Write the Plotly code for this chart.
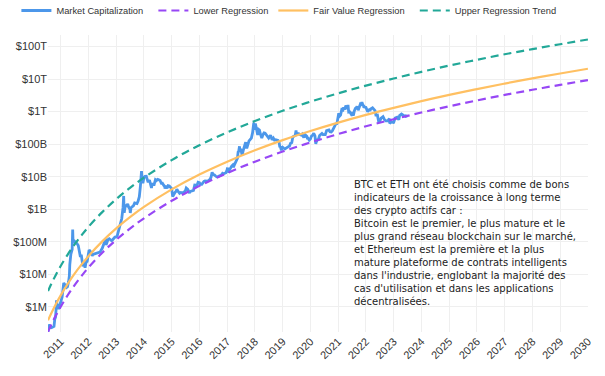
import plotly.graph_objects as go

# ---------------- data ----------------
mc_dates = [
 "2010-07-18","2010-07-25","2010-08-05","2010-08-20","2010-09-05","2010-09-20","2010-10-05","2010-10-15","2010-10-25",
 "2010-11-01","2010-11-07","2010-11-15","2010-11-25","2010-12-05","2010-12-15","2010-12-25",
 "2011-01-05","2011-01-20","2011-02-01","2011-02-10","2011-02-20","2011-03-01","2011-03-20","2011-04-01","2011-04-15","2011-04-25",
 "2011-05-01","2011-05-15","2011-06-01","2011-06-08","2011-06-12","2011-06-20","2011-07-01","2011-07-15","2011-08-01","2011-08-20",
 "2011-09-01","2011-09-15","2011-10-01","2011-10-20","2011-11-01","2011-11-18","2011-12-01","2011-12-15",
 "2012-01-01","2012-01-10","2012-02-01","2012-02-20","2012-03-01","2012-04-01","2012-05-01","2012-06-01","2012-07-01","2012-07-15",
 "2012-08-01","2012-08-16","2012-08-20","2012-09-01","2012-09-15","2012-10-01","2012-10-15","2012-11-01","2012-11-15","2012-12-01","2012-12-15",
 "2013-01-01","2013-01-15","2013-02-01","2013-02-15","2013-03-01","2013-03-15","2013-04-01","2013-04-09","2013-04-16","2013-05-01",
 "2013-05-15","2013-06-01","2013-06-15","2013-07-01","2013-07-05","2013-07-15","2013-08-01","2013-08-15","2013-09-01","2013-09-15",
 "2013-10-01","2013-10-15","2013-11-01","2013-11-15","2013-11-30","2013-12-07","2013-12-18",
 "2014-01-01","2014-01-15","2014-02-01","2014-02-15","2014-02-25","2014-03-01","2014-03-15","2014-04-01","2014-04-10","2014-04-20",
 "2014-05-01","2014-05-15","2014-06-01","2014-06-15","2014-07-01","2014-07-15","2014-08-01","2014-08-18","2014-09-01","2014-09-22",
 "2014-10-01","2014-10-05","2014-10-15","2014-11-01","2014-11-15","2014-12-01","2014-12-15",
 "2015-01-01","2015-01-14","2015-02-01","2015-02-15","2015-03-01","2015-03-10","2015-04-01","2015-04-15","2015-05-01","2015-06-01",
 "2015-07-01","2015-07-12","2015-08-01","2015-08-24","2015-09-01","2015-10-01","2015-10-15","2015-11-04","2015-11-11","2015-12-01","2015-12-15",
 "2016-01-01","2016-01-15","2016-02-01","2016-02-15","2016-03-01","2016-03-15","2016-04-01","2016-04-15","2016-05-01","2016-05-15",
 "2016-06-01","2016-06-16","2016-07-01","2016-07-15","2016-08-01","2016-08-15","2016-09-01","2016-09-15","2016-10-01","2016-10-15",
 "2016-11-01","2016-11-15","2016-12-01","2016-12-15",
 "2017-01-01","2017-01-05","2017-01-11","2017-02-01","2017-02-15","2017-03-01","2017-03-15","2017-03-25","2017-04-01","2017-04-15",
 "2017-05-01","2017-05-15","2017-05-25","2017-06-01","2017-06-12","2017-06-15","2017-07-01","2017-07-16","2017-08-01","2017-08-15",
 "2017-09-01","2017-09-15","2017-10-01","2017-10-15","2017-11-01","2017-11-15","2017-12-01","2017-12-17","2017-12-22",
 "2018-01-01","2018-01-07","2018-01-13","2018-02-01","2018-02-06","2018-02-20","2018-03-01","2018-03-15","2018-04-01","2018-04-15",
 "2018-05-01","2018-05-15","2018-06-01","2018-06-15","2018-07-01","2018-07-25","2018-08-01","2018-08-15","2018-09-01","2018-09-15",
 "2018-10-01","2018-10-15","2018-11-01","2018-11-15","2018-11-25","2018-12-01","2018-12-15",
 "2019-01-01","2019-01-15","2019-02-01","2019-02-15","2019-03-01","2019-03-15","2019-04-01","2019-04-15","2019-05-01","2019-05-15",
 "2019-06-01","2019-06-15","2019-06-26","2019-07-01","2019-07-15","2019-08-01","2019-08-15","2019-09-01","2019-09-15","2019-09-25",
 "2019-10-01","2019-10-15","2019-10-26","2019-11-01","2019-11-15","2019-11-25","2019-12-01","2019-12-17",
 "2020-01-01","2020-01-15","2020-02-01","2020-02-14","2020-03-01","2020-03-12","2020-03-15","2020-04-01","2020-04-15","2020-05-01",
 "2020-05-15","2020-06-01","2020-06-15","2020-07-01","2020-07-15","2020-08-01","2020-08-15","2020-09-01","2020-09-15","2020-10-01",
 "2020-10-15","2020-11-01","2020-11-15","2020-12-01","2020-12-15",
 "2021-01-01","2021-01-08","2021-01-22","2021-02-01","2021-02-21","2021-02-28","2021-03-13","2021-03-25","2021-04-14","2021-04-25",
 "2021-05-10","2021-05-19","2021-06-01","2021-06-22","2021-07-01","2021-07-20","2021-08-01","2021-08-15","2021-09-01","2021-09-06",
 "2021-09-21","2021-10-01","2021-10-20","2021-11-01","2021-11-09","2021-11-26","2021-12-01","2021-12-04","2021-12-20",
 "2022-01-01","2022-01-24","2022-02-10","2022-02-24","2022-03-01","2022-03-29","2022-04-15","2022-05-01","2022-05-12","2022-06-01",
 "2022-06-18","2022-07-01","2022-07-20","2022-08-14","2022-09-01","2022-09-20","2022-10-15","2022-11-05","2022-11-10","2022-12-01","2022-12-30",
 "2023-01-01","2023-01-20","2023-02-01","2023-02-15","2023-03-10","2023-03-20","2023-04-14","2023-05-01","2023-05-15","2023-06-01",
 "2023-06-15","2023-06-22",
]
mc_values = [
 1.7e5,2.9e5,2.2e5,2.5e5,2.3e5,2.4e5,2.5e5,4.2e5,4.8e5,
 8.0e5,1.6e6,1.1e6,1.2e6,8.5e5,1.1e6,1.15e6,
 1.5e6,2.0e6,3.6e6,5.5e6,4.9e6,4.8e6,4.0e6,4.2e6,6.0e6,9.0e6,
 2.0e7,4.2e7,5.8e7,2.4e8,1.2e8,1.1e8,1.06e8,9.4e7,9.0e7,7.7e7,
 5.8e7,3.7e7,3.7e7,1.75e7,2.4e7,1.6e7,2.35e7,2.5e7,
 4.2e7,5.6e7,4.9e7,3.7e7,4.1e7,4.3e7,4.5e7,4.8e7,6.3e7,7.6e7,
 9.0e7,1.25e8,8.0e7,1.0e8,1.17e8,1.24e8,1.19e8,1.08e8,1.16e8,1.32e8,1.40e8,
 1.42e8,1.56e8,2.22e8,2.95e8,3.75e8,5.2e8,1.16e9,2.57e9,7.8e8,1.3e9,
 1.28e9,1.45e9,1.14e9,9.9e8,7.7e8,1.12e9,1.2e9,1.27e9,1.57e9,1.5e9,
 1.49e9,1.76e9,2.44e9,5.0e9,1.5e10,8.5e9,6.3e9,
 9.4e9,1.02e10,1.03e10,7.7e9,6.7e9,7.1e9,7.9e9,6.0e9,4.5e9,6.3e9,
 5.7e9,5.7e9,8.1e9,7.6e9,8.3e9,8.1e9,7.7e9,6.3e9,6.3e9,5.3e9,
 5.1e9,4.3e9,5.3e9,4.4e9,5.3e9,5.2e9,4.7e9,
 4.3e9,2.45e9,3.1e9,3.3e9,3.6e9,4.1e9,3.4e9,3.1e9,3.3e9,3.2e9,
 3.7e9,4.5e9,4.1e9,3.15e9,3.5e9,3.6e9,3.8e9,6.0e9,4.7e9,5.5e9,6.8e9,
 6.6e9,5.8e9,5.8e9,6.5e9,7.2e9,7.4e9,7.3e9,7.3e9,7.7e9,8.1e9,
 9.5e9,1.36e10,1.16e10,1.14e10,1.05e10,9.9e9,1.01e10,1.07e10,1.09e10,1.12e10,
 1.27e10,1.23e10,1.27e10,1.32e10,
 1.67e10,1.91e10,1.35e10,1.69e10,1.75e10,2.12e10,2.29e10,1.96e10,2.2e10,2.72e10,
 3.05e10,3.66e10,5.78e10,5.97e10,8.63e10,7.21e10,6.7e10,4.56e10,6.58e10,9.4e10,
 1.144e11,7.4e10,1.008e11,1.257e11,1.41e11,1.54e11,2.26e11,4.6e11,3.0e11,
 3.0e11,4.3e11,3.71e11,2.56e11,1.91e11,2.81e11,2.7e11,2.0e11,1.55e11,1.92e11,
 2.23e11,2.18e11,1.86e11,1.61e11,1.54e11,1.88e11,1.72e11,1.36e11,1.54e11,1.34e11,
 1.38e11,1.36e11,1.30e11,1.15e11,8.0e10,8.5e10,6.5e10,
 8.0e10,7.55e10,7.2e10,7.58e10,8.1e10,8.35e10,8.78e10,1.06e11,1.113e11,1.68e11,
 1.8e11,1.84e11,2.65e11,2.19e11,2.09e11,2.09e11,1.98e11,1.91e11,2.04e11,1.68e11,
 1.68e11,1.695e11,1.91e11,1.86e11,1.74e11,1.44e11,1.505e11,1.33e11,
 1.445e11,1.78e11,1.9e11,2.17e11,1.8e11,1.02e11,1.115e11,1.37e11,1.39e11,1.855e11,
 1.93e11,2.13e11,1.98e11,1.95e11,1.96e11,2.61e11,2.69e11,2.73e11,2.41e11,2.36e11,
 2.54e11,2.99e11,3.47e11,4.19e11,4.27e11,
 6.29e11,8.97e11,7.36e11,7.79e11,1.297e12,1.008e12,1.351e12,1.158e12,1.55e12,1.186e12,
 1.6e12,9.72e11,9.87e11,8.27e11,8.75e11,7.69e11,1.051e12,1.268e12,1.368e12,1.452e12,
 1.106e12,1.298e12,1.722e12,1.666e12,1.95e12,1.5e12,1.621e12,1.404e12,1.348e12,
 1.346e12,9.85e11,1.198e12,1.041e12,1.192e12,1.31e12,1.135e12,1.073e12,7.86e11,7.88e11,
 4.83e11,4.97e11,6.28e11,7.02e11,5.75e11,5.23e11,5.21e11,6.06e11,4.37e11,4.82e11,4.64e11,
 4.66e11,6.33e11,6.54e11,6.74e11,5.64e11,7.58e11,8.42e11,7.67e11,7.47e11,7.44e11,
 6.84e11,8.09e11,
]

reg_dates = [
 "2010-07-18","2010-09-01","2010-11-01","2011-01-01","2011-04-01","2011-07-01","2011-10-01","2012-01-01",
 "2012-07-01","2013-01-01","2013-07-01","2014-01-01","2015-01-01","2016-01-01","2017-01-01","2018-01-01",
 "2019-01-01","2020-01-01","2021-01-01","2022-01-01","2023-01-01","2024-01-01","2025-01-01","2026-01-01",
 "2027-01-01","2028-01-01","2029-01-01","2030-01-01",
]
lower_values = [
 1.72e5,2.90e5,5.58e5,1.01e6,2.24e6,4.60e6,8.84e6,1.61e7,
 4.60e7,1.15e8,2.55e8,5.27e8,1.82e9,5.23e9,1.30e10,2.90e10,
 5.94e10,1.13e11,2.05e11,3.55e11,5.85e11,9.38e11,1.46e12,2.21e12,
 3.26e12,4.69e12,6.66e12,9.29e12,
]
fair_values = [
 3.85e5,6.50e5,1.25e6,2.26e6,5.01e6,1.03e7,1.98e7,3.61e7,
 1.03e8,2.58e8,5.71e8,1.18e9,4.08e9,1.17e10,2.90e10,6.49e10,
 1.33e11,2.54e11,4.60e11,7.94e11,1.31e12,2.10e12,3.27e12,4.94e12,
 7.29e12,1.05e13,1.49e13,2.08e13,
]
upper_values = [
 3.06e6,5.16e6,9.93e6,1.80e7,3.98e7,8.18e7,1.57e8,2.87e8,
 8.18e8,2.05e9,4.54e9,9.37e9,3.24e10,9.29e10,2.30e11,5.16e11,
 1.06e12,2.02e12,3.65e12,6.31e12,1.04e13,1.67e13,2.60e13,3.92e13,
 5.79e13,8.34e13,1.18e14,1.65e14,
]

y_tickvals = [1e6, 1e7, 1e8, 1e9, 1e10, 1e11, 1e12, 1e13, 1e14]
y_ticktext = ["$1M", "$10M", "$100M", "$1B", "$10B", "$100B", "$1T", "$10T", "$100T"]

note_lines = [
    "BTC et ETH ont été choisis comme de bons",
    "indicateurs de la croissance à long terme",
    "des crypto actifs car :",
    "Bitcoin est le premier, le plus mature et le",
    "plus grand réseau blockchain sur le marché,",
    "et Ethereum est la première et la plus",
    "mature plateforme de contrats intelligents",
    "dans l'industrie, englobant la majorité des",
    "cas d'utilisation et dans les applications",
    "décentralisées.",
]

NB = "\u00a0"

# ---------------- layout constants ----------------
W, H = 605, 376
ML, MR, MT, MB = 48, 17, 35, 44
PH = H - MT - MB
NOTE_X_PX, NOTE_TOP_PX = 352, 177

# ---------------- figure ----------------
fig = go.Figure()
fig.add_trace(go.Scatter(x=mc_dates, y=mc_values, mode="lines", name="Market Capitalization" + NB * 2,
                         line=dict(color="#4c97ea", width=2.8)))
fig.add_trace(go.Scatter(x=reg_dates, y=lower_values, mode="lines", name="Lower Regression",
                         line=dict(color="#9747f5", width=2.2, dash="8px,5px", shape="spline")))
fig.add_trace(go.Scatter(x=reg_dates, y=fair_values, mode="lines", name="Fair Value Regression" + NB * 2,
                         line=dict(color="#ffc062", width=2.2, shape="spline")))
fig.add_trace(go.Scatter(x=reg_dates, y=upper_values, mode="lines", name="Upper Regression Trend",
                         line=dict(color="#22a898", width=2.2, dash="8px,5px", shape="spline")))

fig.add_annotation(text="<br>".join(note_lines), xref="paper", yref="paper",
                   x=(NOTE_X_PX - ML) / (W - ML - MR), y=(H - MB - NOTE_TOP_PX) / PH,
                   xanchor="left", yanchor="top", align="left", showarrow=False,
                   font=dict(family="DejaVu Sans, sans-serif", size=10, color="#222222"))

fig.update_layout(
    width=W, height=H,
    margin=dict(l=ML, r=MR, t=MT, b=MB, autoexpand=False),
    paper_bgcolor="white", plot_bgcolor="white",
    font=dict(family="Liberation Sans, Arial, sans-serif", size=11, color="#333333"),
    showlegend=True,
    legend=dict(orientation="h", x=16.4 / W, xanchor="left", xref="container",
                y=1 - 10.5 / H, yanchor="middle", yref="container",
                font=dict(size=9.3, color="#333333"), itemwidth=30),
)
fig.update_xaxes(type="date", range=["2010-07-18", "2030-01-02"], dtick="M12", tick0="2011-01-01",
                 tickformat="%Y", tickangle=-45, showgrid=True, gridcolor="#efefef", gridwidth=1,
                 zeroline=False, showline=False, ticks="", automargin=False)
fig.update_yaxes(type="log", range=[5.228, 14.355], tickvals=y_tickvals, ticktext=y_ticktext,
                 showgrid=True, gridcolor="#efefef", gridwidth=1, zeroline=False, showline=False, ticks="",
                 automargin=False)

fig.write_html("out.html",
               config={"displayModeBar": False},
               post_script="document.body.style.margin='0';document.body.style.padding='0';")
